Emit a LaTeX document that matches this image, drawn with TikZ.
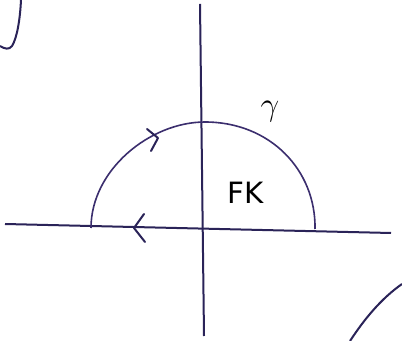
\documentclass[tikz,border=0pt]{standalone}
\usepackage{fontspec}
\setsansfont{DejaVu Sans}
\definecolor{ink}{HTML}{2A2358}
\definecolor{arcink}{HTML}{3B2E6E}
\tikzset{
  axis/.style={draw=ink, line width=1.5pt},
  curveline/.style={draw=arcink, line width=1.2pt},
  chevron/.style={draw=ink, line width=1.5pt, line cap=round, line join=round},
  lbl/.style={text=black, inner sep=0pt}
}
\begin{document}
\begin{tikzpicture}[x=0.75pt,y=-0.75pt]
\useasboundingbox (0,0) rectangle (402,341);
\fill[white] (0,0) rectangle (402,341);
% axes
\coordinate (xl) at (5,224);
\coordinate (xr) at (391,233);
\coordinate (yt) at (200,4);
\coordinate (yb) at (204,336);
\draw[axis] (xl) -- (xr);
\draw[axis] (yt) -- (yb);
% semicircle contour
\coordinate (al) at (91,228);
\coordinate (atop) at (205,122);
\coordinate (ar) at (315,229);
\draw[curveline] (al) .. controls (91,170) and (150,122) .. (atop)
  .. controls (270,122) and (316,170) .. (ar);
% arrow chevrons
\draw[chevron] (147,129) -- (158,138) -- (151,151);
\draw[chevron] (144,214) -- (134,228) -- (145,242);
% labels
\node[lbl, font=\fontsize{26}{26}\selectfont] (gam) at (270,112) {$\gamma$};
\node[lbl, font=\sffamily\fontsize{22}{22}\selectfont] (fk) at (246,193) {FK};
% corner sketches
\draw[axis] (21,0) .. controls (20,20) and (17,38) .. (12,46) .. controls (9,50) and (5,49) .. (0,46);
\draw[axis] (350,341) .. controls (365,318) and (382,298) .. (402,284);
\end{tikzpicture}
\end{document}
